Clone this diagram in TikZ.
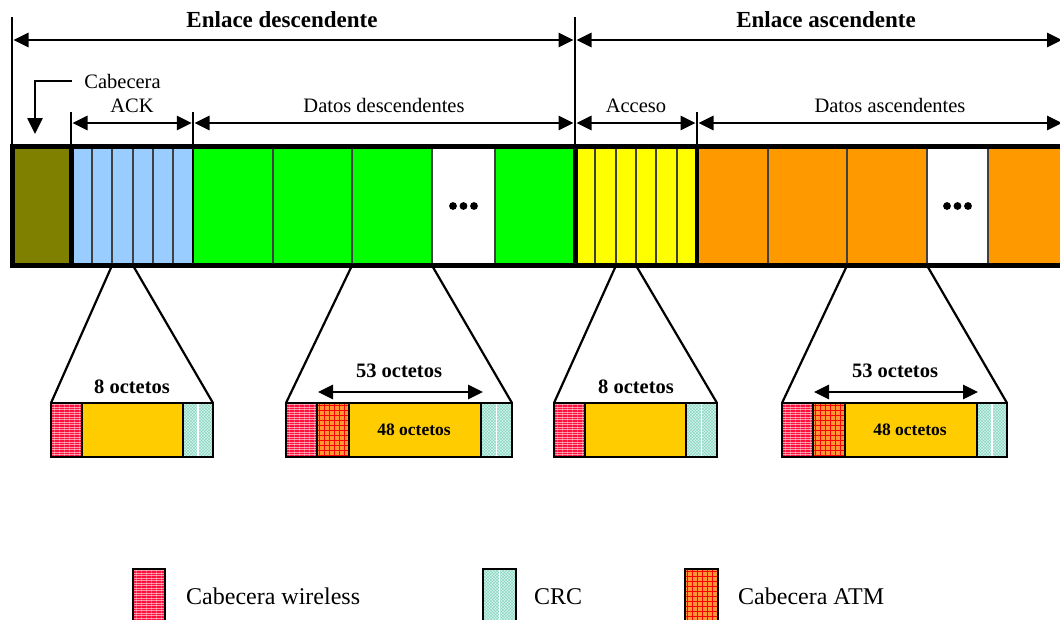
\documentclass[tikz,border=0pt]{standalone}
\usepackage{fontspec}
\setmainfont{Liberation Serif}
\usetikzlibrary{arrows.meta}

\definecolor{olivebar}{RGB}{128,128,0}
\definecolor{ackblue}{RGB}{153,204,255}
\definecolor{dlgreen}{RGB}{0,255,0}
\definecolor{accyellow}{RGB}{255,255,0}
\definecolor{ulorange}{RGB}{255,153,0}
\definecolor{payload}{RGB}{255,204,0}
\definecolor{hdrred}{RGB}{255,16,60}
\definecolor{atmorange}{RGB}{255,150,50}
\definecolor{crcmint}{RGB}{205,245,232}
\definecolor{crcteal}{RGB}{60,170,150}

\tikzset{
  cell/.style={rectangle, inner sep=0pt, outer sep=0pt, anchor=north west,
    minimum height=119pt, draw=black!75, line width=1.2pt},
  part/.style={rectangle, inner sep=0pt, outer sep=0pt, anchor=north west,
    minimum height=54pt, draw=black, line width=1.6pt},
  wless/.style={part, fill=hdrred, path picture={
    \foreach \k in {1.5,4,...,70}
      \draw[white, opacity=0.55, line width=0.5pt]
        ([yshift=-\k pt]path picture bounding box.north west) --
        ([yshift=-\k pt]path picture bounding box.north east);
    \foreach \k in {3,8,...,40}
      \draw[white, opacity=0.3, line width=0.4pt]
        ([xshift=\k pt]path picture bounding box.north west) --
        ([xshift=\k pt]path picture bounding box.south west);}},
  atmhdr/.style={part, fill=atmorange, path picture={
    \foreach \k in {2.5,7.5,...,70}
      \draw[red, line width=0.6pt]
        ([yshift=-\k pt]path picture bounding box.north west) --
        ([yshift=-\k pt]path picture bounding box.north east);
    \foreach \k in {2.5,7.5,...,40}
      \draw[red, line width=0.6pt]
        ([xshift=\k pt]path picture bounding box.north west) --
        ([xshift=\k pt]path picture bounding box.south west);}},
  crc/.style={part, fill=crcmint, path picture={
    \foreach \k in {-70,-67,...,40}
      \draw[crcteal, opacity=0.35, line width=0.4pt]
        ([xshift=\k pt]path picture bounding box.south west) -- ++(70pt,70pt);
    \foreach \k in {-10,-7,...,100}
      \draw[crcteal, opacity=0.35, line width=0.4pt]
        ([xshift=\k pt]path picture bounding box.south west) -- ++(-70pt,70pt);
    \draw[white, line width=1.2pt]
      (path picture bounding box.north) -- (path picture bounding box.south);}},
  pay/.style={part, fill=payload},
  guide/.style={line width=2.6pt},
  dim/.style={line width=2.8pt, {Triangle[length=15pt,width=14pt]}-{Triangle[length=15pt,width=14pt]}},
  fan/.style={line width=2.2pt},
  ttl/.style={font=\bfseries\fontsize{23}{27}\selectfont, inner sep=0pt, anchor=base},
  lbl/.style={font=\fontsize{20.5}{24}\selectfont, inner sep=0pt, anchor=base},
  oct/.style={font=\bfseries\fontsize{20.5}{24}\selectfont, inner sep=0pt, anchor=base},
  octs/.style={font=\bfseries\fontsize{17.5}{21}\selectfont, inner sep=0pt, anchor=base},
  leg/.style={font=\fontsize{24}{28}\selectfont, inner sep=0pt, anchor=base west},
}

\begin{document}
\begin{tikzpicture}[x=1pt, y=-1pt]
\useasboundingbox (0,0) rectangle (1060,619);

% ---- frame cells ----
\node[cell, fill=olivebar, minimum width=59pt] (olv) at (12,146.5) {};
% ACK slots
\node[cell, fill=ackblue, minimum width=21pt] (b1) at (71,146.5) {};
\node[cell, fill=ackblue, minimum width=20pt] (b2) at (92,146.5) {};
\node[cell, fill=ackblue, minimum width=21pt] (b3) at (112,146.5) {};
\node[cell, fill=ackblue, minimum width=20pt] (b4) at (133,146.5) {};
\node[cell, fill=ackblue, minimum width=20pt] (b5) at (153,146.5) {};
\node[cell, fill=ackblue, minimum width=20pt] (b6) at (173,146.5) {};
% downlink data
\node[cell, fill=dlgreen, minimum width=80pt] (g1) at (193,146.5) {};
\node[cell, fill=dlgreen, minimum width=79pt] (g2) at (273,146.5) {};
\node[cell, fill=dlgreen, minimum width=80pt] (g3) at (352,146.5) {};
\node[cell, fill=white, minimum width=63pt] (gd) at (432,146.5) {};
\node[cell, fill=dlgreen, minimum width=80pt] (g5) at (495,146.5) {};
% access slots
\node[cell, fill=accyellow, minimum width=20pt] (y1) at (575,146.5) {};
\node[cell, fill=accyellow, minimum width=21pt] (y2) at (595,146.5) {};
\node[cell, fill=accyellow, minimum width=20pt] (y3) at (616,146.5) {};
\node[cell, fill=accyellow, minimum width=20pt] (y4) at (636,146.5) {};
\node[cell, fill=accyellow, minimum width=21pt] (y5) at (656,146.5) {};
\node[cell, fill=accyellow, minimum width=20pt] (y6) at (677,146.5) {};
% uplink data
\node[cell, fill=ulorange, minimum width=71pt] (o1) at (697,146.5) {};
\node[cell, fill=ulorange, minimum width=79pt] (o2) at (768,146.5) {};
\node[cell, fill=ulorange, minimum width=80pt] (o3) at (847,146.5) {};
\node[cell, fill=white, minimum width=61pt] (od) at (927,146.5) {};
\node[cell, fill=ulorange, minimum width=77pt] (o5) at (988,146.5) {};

% ellipsis dots
\foreach \dx in {-10.5,0,10.5} {
  \fill ([xshift=\dx pt]gd.center) circle (3.9pt);
  \fill ([xshift=\dx pt]od.center) circle (3.9pt);
}

% ---- expanded slot formats ----
\node[wless, minimum width=31pt] (h1) at (51,403) {};
\node[pay, minimum width=101pt] (p1) at (82,403) {};
\node[crc, minimum width=30pt] (c1) at (183,403) {};

\node[wless, minimum width=31pt] (h2) at (286,403) {};
\node[atmhdr, minimum width=32pt] (a2) at (317,403) {};
\node[pay, minimum width=132pt] (p2) at (349,403) {};
\node[crc, minimum width=31pt] (c2) at (481,403) {};

\node[wless, minimum width=31pt] (h3) at (554,403) {};
\node[pay, minimum width=101pt] (p3) at (585,403) {};
\node[crc, minimum width=31pt] (c3) at (686,403) {};

\node[wless, minimum width=31pt] (h4) at (782,403) {};
\node[atmhdr, minimum width=32pt] (a4) at (813,403) {};
\node[pay, minimum width=132pt] (p4) at (845,403) {};
\node[crc, minimum width=30pt] (c4) at (977,403) {};

% fan lines from the slots to their formats
\draw[fan] (b3.south west) -- (h1.north west);
\draw[fan] (b3.south east) -- (c1.north east);
\draw[fan] (g3.south west) -- (h2.north west);
\draw[fan] (g3.south east) -- (c2.north east);
\draw[fan] (y3.south west) -- (h3.north west);
\draw[fan] (y3.south east) -- (c3.north east);
\draw[fan] (o3.south west) -- (h4.north west);
\draw[fan] (o3.south east) -- (c4.north east);

% section separators and outer frame
\draw[line width=5pt] (olv.north east) -- (olv.south east);
\draw[line width=2.6pt] (b6.north east) -- (b6.south east);
\draw[line width=5pt] (g5.north east) -- (g5.south east);
\draw[line width=3.5pt] (y6.north east) -- (y6.south east);
\draw[line width=5pt] (olv.north west) rectangle (o5.south east);

% ---- dimension guides ----
\coordinate (t0) at (12,17);
\coordinate (t1) at (575,17);
\coordinate (t2) at (71,112);
\coordinate (t3) at (193,112);
\coordinate (t4) at (697,112);
\draw[guide] (t0) -- (olv.north west);
\draw[guide] (t1) -- (g5.north east);
\draw[guide] (t2) -- (b1.north west);
\draw[guide] (t3) -- (b6.north east);
\draw[guide] (t4) -- (y6.north east);

\coordinate (d1a) at (13.5,40);   \coordinate (d1b) at (573.5,40);
\coordinate (d2a) at (576.5,40);  \coordinate (d2b) at (1062,40);
\coordinate (e1a) at (72.5,123);  \coordinate (e1b) at (191.8,123);
\coordinate (e2a) at (194.5,123); \coordinate (e2b) at (573.5,123);
\coordinate (e3a) at (576.5,123); \coordinate (e3b) at (695.5,123);
\coordinate (e4a) at (698.5,123); \coordinate (e4b) at (1062,123);
\draw[dim] (d1a) -- (d1b);
\draw[dim] (d2a) -- (d2b);
\draw[dim] (e1a) -- (e1b);
\draw[dim] (e2a) -- (e2b);
\draw[dim] (e3a) -- (e3b);
\draw[dim] (e4a) -- (e4b);

% pointer to the frame header
\coordinate (cp0) at (72,81);
\coordinate (cp1) at (35,81);
\coordinate (cp2) at (35,134);
\draw[guide, -{Triangle[length=16pt,width=15pt]}] (cp0) -- (cp1) -- (cp2);

% 53-octet spans
\coordinate (s2a) at (318,392); \coordinate (s2b) at (483,392);
\coordinate (s4a) at (814,392); \coordinate (s4b) at (978,392);
\draw[dim] (s2a) -- (s2b);
\draw[dim] (s4a) -- (s4b);

% ---- labels ----
\node[ttl] (tdl) at (282,27) {Enlace descendente};
\node[ttl] (tul) at (826,27) {Enlace ascendente};
\node[lbl] (lcab) at (122.5,88) {Cabecera};
\node[lbl] (lack) at (132,112) {ACK};
\node[lbl] (ldd) at (384,112) {Datos descendentes};
\node[lbl] (lacc) at (636,112) {Acceso};
\node[lbl] (lda) at (890,112) {Datos ascendentes};

\node[oct] (o8a) at (132,393) {8 octetos};
\node[oct] (o53a) at (399,377) {53 octetos};
\node[octs] (o48a) at (414,435) {48 octetos};
\node[oct] (o8b) at (636,393) {8 octetos};
\node[oct] (o53b) at (895,377) {53 octetos};
\node[octs] (o48b) at (910,435) {48 octetos};

% ---- legend ----
\node[wless, minimum width=32pt, minimum height=56pt] (kw) at (133,569) {};
\node[crc, minimum width=33pt, minimum height=56pt] (kc) at (483,569) {};
\node[atmhdr, minimum width=33pt, minimum height=56pt] (ka) at (685,569) {};
\node[leg] (kwt) at (186,604) {Cabecera wireless};
\node[leg] (kct) at (534,604) {CRC};
\node[leg] (kat) at (738,604) {Cabecera ATM};
\end{tikzpicture}
\end{document}
